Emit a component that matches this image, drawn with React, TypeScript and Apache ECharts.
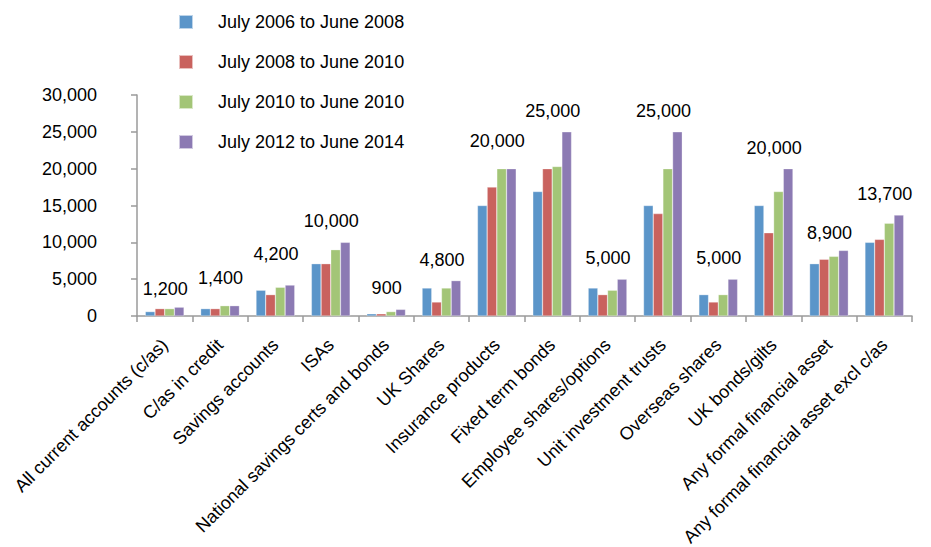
import React, { useEffect, useRef } from "react";
import * as echarts from "echarts";

const categories = [
  "All current accounts (c/as)",
  "C/as in credit",
  "Savings accounts",
  "ISAs",
  "National savings certs and bonds",
  "UK Shares",
  "Insurance products",
  "Fixed term bonds",
  "Employee shares/options",
  "Unit investment trusts",
  "Overseas shares",
  "UK bonds/gilts",
  "Any formal financial asset",
  "Any formal financial asset excl c/as",
];

const seriesNames = [
  "July 2006 to June 2008",
  "July 2008 to June 2010",
  "July 2010 to June 2010",
  "July 2012 to June 2014",
];

const values2006 = [600, 1000, 3500, 7100, 300, 3800, 15000, 16900, 3800, 15000, 2900, 15000, 7100, 10000];
const values2008 = [1000, 1000, 2900, 7100, 300, 1900, 17500, 20000, 2900, 13900, 1900, 11300, 7700, 10400];
const values2010 = [1000, 1400, 3900, 9000, 600, 3800, 20000, 20300, 3500, 20000, 2900, 16900, 8100, 12600];
const values2012 = [1200, 1400, 4200, 10000, 900, 4800, 20000, 25000, 5000, 25000, 5000, 20000, 8900, 13700];

const yTicks = { min: 0, max: 30000, interval: 5000 };

// label vertical adjustments (styling only)
const labelDy = [3, -7, -10, 0, 0, 0, -7, 0, 0, 0, 0, 0, 4, 0];

const colors = ["#5b95c9", "#c9625e", "#a3c577", "#8c7ab3"];
const FONT = "'Liberation Sans', Arial, Helvetica, sans-serif";

export default function App() {
  const ref = useRef<HTMLDivElement>(null);
  useEffect(() => {
    if (!ref.current) return;
    const chart = echarts.init(ref.current, null, { renderer: "svg" });
    const all = [values2006, values2008, values2010, values2012];
    const fmt = (v: number) => v.toLocaleString("en-US");
    chart.setOption({
      animation: false,
      color: colors,
      textStyle: { fontFamily: FONT },
      legend: {
        orient: "vertical",
        left: 173,
        top: 7,
        itemWidth: 14,
        itemHeight: 14,
        itemGap: 20,
        icon: "rect",
        data: seriesNames,
        textStyle: { fontSize: 18, color: "#000", fontFamily: FONT, lineHeight: 20, padding: [0, 0, 0, 20] },
      },
      grid: { left: 137, right: 19, top: 95, bottom: 231, containLabel: false, outerBoundsMode: "none" },
      xAxis: {
        type: "category",
        data: categories,
        axisLine: { lineStyle: { color: "#9a9a9a", width: 1.5 } },
        axisTick: { show: true, length: 6, lineStyle: { color: "#9a9a9a", width: 1.5 } },
        axisLabel: {
          interval: 0,
          rotate: 45,
          margin: 26,
          fontSize: 18,
          lineHeight: 16,
          color: "#000",
          fontFamily: FONT,
        },
      },
      yAxis: {
        type: "value",
        min: yTicks.min,
        max: yTicks.max,
        interval: yTicks.interval,
        splitLine: { show: false },
        axisLine: { show: true, lineStyle: { color: "#9a9a9a", width: 1.5 } },
        axisTick: { show: true, length: 6, lineStyle: { color: "#9a9a9a", width: 1.5 } },
        axisLabel: {
          margin: 40,
          fontSize: 18,
          color: "#000",
          fontFamily: FONT,
          formatter: (v: number) => fmt(v),
        },
      },
      series: all.map((vals, si) => ({
        name: seriesNames[si],
        type: "bar",
        barGap: "0%",
        barCategoryGap: "30%",
        itemStyle: { color: colors[si], borderColor: "rgba(255,255,255,0.6)", borderWidth: 0.5 },
        data:
          si === 3
            ? vals.map((v, i) => ({
                value: v,
                label: {
                  show: true,
                  position: "top",
                  distance: 12,
                  offset: [-14, labelDy[i]],
                  fontSize: 18,
                  color: "#000",
                  fontFamily: FONT,
                  formatter: (p: any) => fmt(p.value),
                },
              }))
            : vals,
      })),
    });
    return () => chart.dispose();
  }, []);
  return (
    <div
      ref={ref}
      style={{ position: "fixed", left: 0, top: 0, width: 931, height: 547, background: "#fff" }}
    />
  );
}
